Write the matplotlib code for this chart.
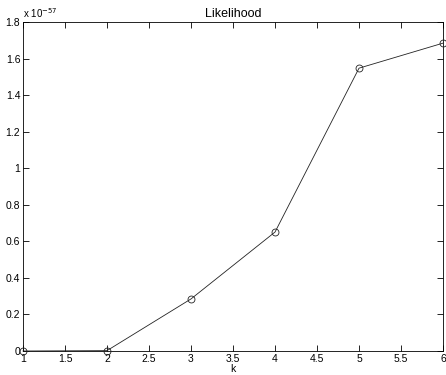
import matplotlib
matplotlib.use("Agg")
import matplotlib.pyplot as plt

# data (likelihood in units of 1e-57)
k = [1, 2, 3, 4, 5, 6]
likelihood = [0.0, 0.002, 0.285, 0.651, 1.548, 1.685]
exponent = -57

xticks = [1, 1.5, 2, 2.5, 3, 3.5, 4, 4.5, 5, 5.5, 6]
xticklabels = ["1", "1.5", "2", "2.5", "3", "3.5", "4", "4.5", "5", "5.5", "6"]
yticks = [0, 0.2, 0.4, 0.6, 0.8, 1, 1.2, 1.4, 1.6, 1.8]
yticklabels = ["0", "0.2", "0.4", "0.6", "0.8", "1", "1.2", "1.4", "1.6", "1.8"]

plt.rcParams["font.family"] = ["Liberation Sans", "DejaVu Sans"]
plt.rcParams["font.size"] = 7.5

fig = plt.figure(figsize=(4.46, 3.75), dpi=100)
ax = fig.add_axes([0.0516, 0.064, 0.9417, 0.877])

ax.plot(k, likelihood, color="#222222", linewidth=0.6, marker="o",
        markersize=5, markerfacecolor="none", markeredgewidth=0.6,
        clip_on=False, zorder=3)

ax.set_xlim(1, 6)
ax.set_ylim(0, 1.8)
ax.set_xticks(xticks)
ax.set_xticklabels(xticklabels)
ax.set_yticks(yticks)
ax.set_yticklabels(yticklabels)
ax.tick_params(direction="in", top=True, right=True, length=4, width=0.6, pad=2)
for s in ax.spines.values():
    s.set_linewidth(0.6)

ax.set_xlabel("k", labelpad=0)
ax.set_title("Likelihood", pad=4)
ax.text(0.0, 1.005, "x 10$^{%d}$" % exponent, transform=ax.transAxes,
        ha="left", va="bottom", fontsize=7)

fig.savefig("out.png", dpi=100)
